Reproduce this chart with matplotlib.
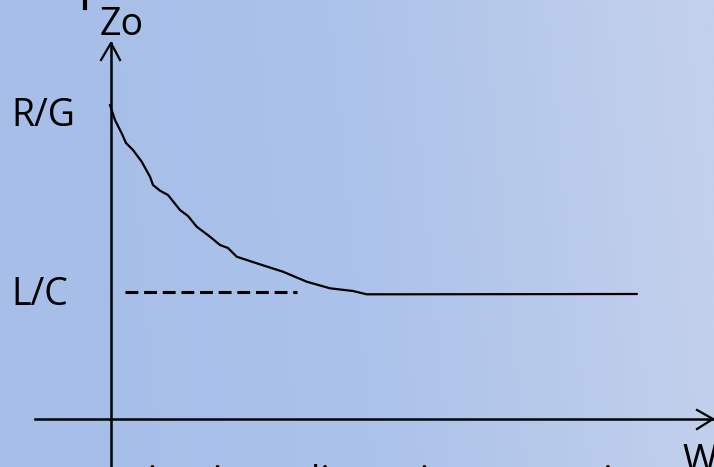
import numpy as np
import matplotlib
matplotlib.use("Agg")
import matplotlib.pyplot as plt
from matplotlib.colors import LinearSegmentedColormap

plt.rcParams['font.family'] = ['Open Sans', 'DejaVu Sans']

# diagram in pixel-like units, origin at the axis crossing, y up
W = [-1, 4, 10.7, 15, 22, 30.7, 39, 42, 49, 57, 69, 77, 85.7, 99, 109, 117,
     125.7, 145.7, 172, 195.7, 219, 242, 255.7, 289, 525.7]
Zo = [314, 299, 285.7, 276, 269, 257.3, 242.3, 234, 228.3, 224, 209, 203,
      192.3, 182.3, 174, 171, 162.3, 155.7, 147.3, 137.3, 130.7, 128, 124.7,
      124.7, 125]
LC_dash_w = [14, 186]
LC_level = 126.7

fig = plt.figure(figsize=(7.14, 4.67), dpi=100)
ax = fig.add_axes([0, 0, 1, 1])
ax.set_xlim(-111, 603)
ax.set_ylim(-48, 419)
ax.axis('off')

# slide background gradient
cmap = LinearSegmentedColormap.from_list('bg', ['#a6bee8', '#abc2ea', '#c2d0ec'])
grad = np.linspace(0, 1, 256)[None, :] * np.ones((32, 1))
grad = grad + np.linspace(0.04, -0.02, 32)[:, None]
ax.imshow(grad, extent=[-111, 603, -48, 419], aspect='auto', cmap=cmap,
          vmin=0, vmax=1, origin='upper', zorder=0)

# axes with open arrowheads
ax.plot([0, 0], [-48, 376], color='black', lw=1.8, zorder=2)
ax.plot([-76, 602], [0, 0], color='black', lw=1.8, zorder=2)
ax.plot([-10, 0, 9], [359, 376, 359], color='black', lw=1.6, zorder=2)
ax.plot([586, 602, 586], [9, 0, -10], color='black', lw=1.6, zorder=2)

# Zo curve and L/C asymptote
ax.plot(W, Zo, color='black', lw=1.6, zorder=3)
ax.plot(LC_dash_w, [LC_level, LC_level], color='black', lw=2.2,
        dashes=(4.2, 1.9), zorder=3)

# labels
ax.text(-11, 384, 'Zo', fontsize=27, ha='left', va='baseline', color='black')
ax.text(-100, 293, 'R/G', fontsize=27, ha='left', va='baseline', color='black')
ax.text(-100, 114, 'L/C', fontsize=27, ha='left', va='baseline', color='black')
ax.text(571, -53, 'W', fontsize=27, ha='left', va='baseline', color='black',
        clip_on=True)
ax.plot([-26, -26], [419, 411], color='black', lw=3, zorder=3)

# clipped caption line at the bottom of the slide
ax.text(16, -74, 'ai nni as a li nearing to maxima', fontsize=27,
        ha='left', va='baseline', color='black', clip_on=True)

fig.savefig('out.png', dpi=100)
